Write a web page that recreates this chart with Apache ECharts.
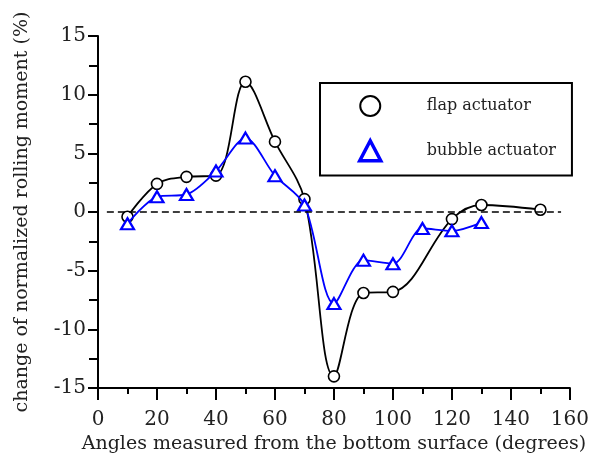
<!DOCTYPE html>
<html>
<head>
<meta charset="utf-8">
<script src="https://cdn.jsdelivr.net/npm/echarts@6/dist/echarts.min.js"></script>
<style>
  html, body { margin: 0; padding: 0; background: #fff; }
  #chart { width: 592px; height: 459px; }
</style>
</head>
<body>
<div id="chart"></div>
<script>
// Rolling-moment change versus actuator angle
const flapAngles   = [10, 20, 30, 40, 50, 60, 70, 80, 90, 100, 120, 130, 150];
const flapValues   = [-0.4, 2.4, 3.0, 3.1, 11.1, 6.0, 1.1, -14.0, -6.9, -6.8, -0.6, 0.6, 0.2];
const bubbleAngles = [10, 20, 30, 40, 50, 60, 70, 80, 90, 100, 110, 120, 130];
const bubbleValues = [-1.0, 1.3, 1.5, 3.5, 6.3, 3.1, 0.6, -7.8, -4.1, -4.4, -1.4, -1.6, -0.9];
const zeroLineRange = [3, 157];

const FONT = 'DejaVu Serif';
const pairs = (xs, ys) => xs.map((x, i) => [x, ys[i]]);

const chart = echarts.init(document.getElementById('chart'), null, { renderer: 'canvas' });
chart.setOption({
  animation: false,
  backgroundColor: '#fff',
  grid: { left: 98, right: 22, top: 36, bottom: 70 },
  legend: {
    orient: 'vertical',
    left: 320,
    top: 83,
    padding: [12, 16, 13, 38],
    itemGap: 22,
    itemWidth: 21,
    itemHeight: 20,
    borderColor: '#000',
    borderWidth: 2,
    borderRadius: 0,
    textStyle: { fontFamily: FONT, fontSize: 16, color: '#222', padding: [0, 0, 0, 41] },
    data: [
      { name: 'flap actuator', icon: 'circle',
        itemStyle: { color: '#fff', borderColor: '#000', borderWidth: 2 } },
      { name: 'bubble actuator', icon: 'triangle',
        itemStyle: { color: '#fff', borderColor: '#0000ff', borderWidth: 3.5 } }
    ]
  },
  xAxis: {
    type: 'value',
    min: 0, max: 160, interval: 20,
    name: 'Angles measured from the bottom surface (degrees)',
    nameLocation: 'middle',
    nameGap: 44,
    nameTextStyle: { fontFamily: FONT, fontSize: 19, color: '#222' },
    axisLine: { onZero: false, lineStyle: { color: '#000', width: 2 } },
    axisTick: { inside: false, length: 12, lineStyle: { color: '#000', width: 2 } },
    minorTick: { show: true, splitNumber: 2, length: 6, lineStyle: { color: '#000', width: 2 } },
    axisLabel: { margin: 22, fontFamily: FONT, fontSize: 20, color: '#222' },
    splitLine: { show: false }
  },
  yAxis: {
    type: 'value',
    min: -15, max: 15, interval: 5,
    name: 'change of normalized rolling moment (%)',
    nameLocation: 'middle',
    nameGap: 66,
    nameTextStyle: { fontFamily: FONT, fontSize: 19, color: '#222' },
    axisLine: { onZero: false, lineStyle: { color: '#000', width: 2 } },
    axisTick: { inside: false, length: 10, lineStyle: { color: '#000', width: 2 } },
    minorTick: { show: true, splitNumber: 2, length: 9, lineStyle: { color: '#000', width: 2 } },
    axisLabel: { margin: 12, fontFamily: FONT, fontSize: 20, color: '#222' },
    splitLine: { show: false }
  },
  series: [
    {
      name: 'flap actuator',
      type: 'line',
      data: pairs(flapAngles, flapValues),
      smooth: 0.35,
      symbol: 'circle',
      symbolSize: 11,
      lineStyle: { color: '#000', width: 1.8 },
      itemStyle: { color: '#fff', borderColor: '#000', borderWidth: 1.6 },
      z: 3,
      markLine: {
        silent: true,
        symbol: 'none',
        label: { show: false },
        lineStyle: { color: '#000', width: 1.6, type: [7, 4] },
        data: [[{ coord: [zeroLineRange[0], 0] }, { coord: [zeroLineRange[1], 0] }]]
      }
    },
    {
      name: 'bubble actuator',
      type: 'line',
      data: pairs(bubbleAngles, bubbleValues),
      smooth: 0.3,
      symbol: 'triangle',
      symbolSize: [13, 11],
      lineStyle: { color: '#0000ff', width: 1.8 },
      itemStyle: { color: '#fff', borderColor: '#0000ff', borderWidth: 2.2 },
      z: 4
    }
  ]
});
</script>
</body>
</html>
